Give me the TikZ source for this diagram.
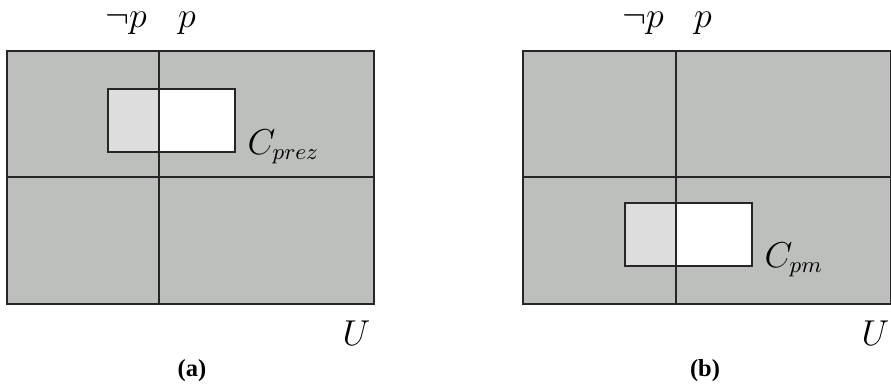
\documentclass[tikz,border=0pt]{standalone}
\usepackage{fontspec}
\newfontfamily\capfont{Liberation Serif}[BoldFont={Liberation Serif Bold}]
\definecolor{cellgray}{RGB}{189,191,189}
\definecolor{lightcell}{RGB}{221,221,221}
\tikzset{
  outerbox/.style={fill=cellgray},
  frameline/.style={draw=black!85, line width=0.6pt},
  lbl/.style={inner sep=0pt, font=\fontsize{13.4}{15}\selectfont},
  caplbl/.style={inner sep=0pt, font=\capfont\bfseries\fontsize{9.8}{11}\selectfont},
}
\begin{document}
\begin{tikzpicture}[x=0.4pt,y=-0.4pt]
\useasboundingbox (0,0) rectangle (891,386);
% ---------- panel (a) ----------
\fill[outerbox] (7,51) rectangle (374,304);
\fill[lightcell] (108,89) rectangle (159,152);
\fill[white] (159,89) rectangle (235,152);
\draw[frameline] (108,89) rectangle (235,152);
\draw[frameline] (159,51) -- (159,304);
\draw[frameline] (7,177) -- (374,177);
\draw[frameline] (7,51) rectangle (374,304);
\node[lbl, anchor=base] (anp) at (126,28) {$\neg p$};
\node[lbl, anchor=base] (ap) at (187,28) {$p$};
\node[lbl, anchor=base west] (aC) at (247,154) {$C_{prez}$};
\node[lbl, anchor=base west] (aU) at (342,345) {$U$};
\node[caplbl] (acap) at (192,371) {(a)};
% ---------- panel (b) ----------
\fill[outerbox] (523,51) rectangle (890.5,304);
\fill[lightcell] (625,203) rectangle (676,266);
\fill[white] (676,203) rectangle (752,266);
\draw[frameline] (625,203) rectangle (752,266);
\draw[frameline] (676,51) -- (676,304);
\draw[frameline] (523,177) -- (890.5,177);
\draw[frameline] (523,51) rectangle (890.5,304);
\node[lbl, anchor=base] (bnp) at (643,28) {$\neg p$};
\node[lbl, anchor=base] (bp) at (703,28) {$p$};
\node[lbl, anchor=base west] (bC) at (764,267) {$C_{pm}$};
\node[lbl, anchor=base west] (bU) at (861,345) {$U$};
\node[caplbl] (bcap) at (705,371) {(b)};
\end{tikzpicture}
\end{document}
